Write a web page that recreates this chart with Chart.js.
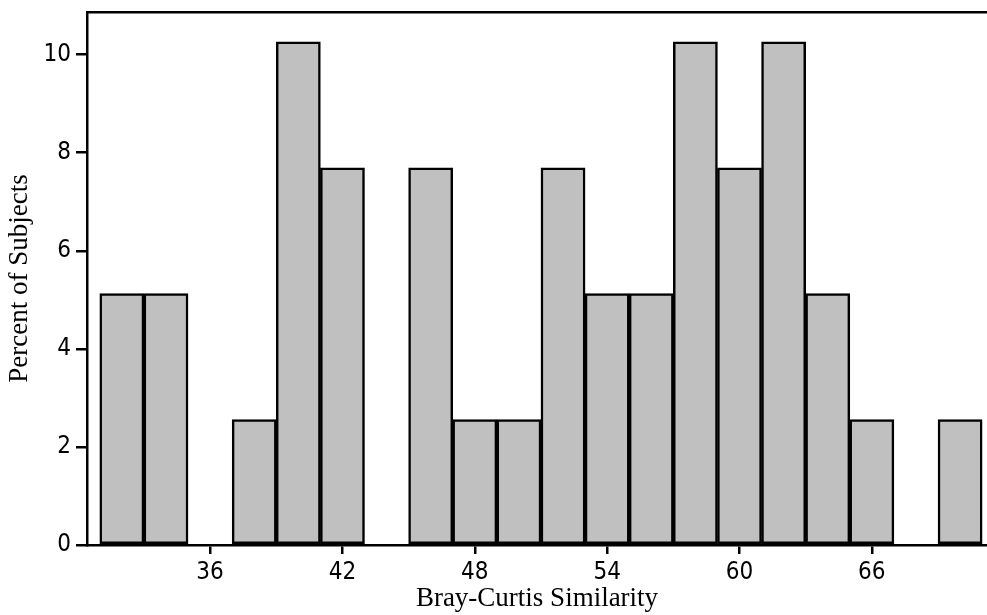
<!DOCTYPE html>
<html>
<head>
<meta charset="utf-8">
<script src="https://cdn.jsdelivr.net/npm/chart.js@4.4.1/dist/chart.umd.min.js"></script>
<style>
  html, body { margin: 0; padding: 0; background: #fff; }
  #wrap { width: 987px; height: 615px; }
</style>
</head>
<body>
<div id="wrap"><canvas id="c" width="987" height="615"></canvas></div>
<script>
// Histogram bin centers (Bray-Curtis Similarity, bin width 2)
const binCenters = [32, 34, 36, 38, 40, 42, 44, 46, 48, 50, 52, 54, 56, 58, 60, 62, 64, 66, 68, 70];
// Percent of subjects per bin
const percents = [5.13, 5.13, 0, 2.56, 10.26, 7.69, 0, 7.69, 2.56, 2.56, 7.69, 5.13, 5.13, 10.26, 7.69, 10.26, 5.13, 2.56, 0, 2.56];
const xTickValues = [36, 42, 48, 54, 60, 66];
const yTickValues = [0, 2, 4, 6, 8, 10];
const xTitle = 'Bray-Curtis Similarity';
const yTitle = 'Percent of Subjects';

const X_MIN = 30.42, X_MAX = 71.22, Y_MIN = 0, Y_MAX = 10.87;
const tickFont = { family: "'DejaVu Sans Condensed', 'Noto Sans', sans-serif", size: 24 };
const titleFont = { family: "'Liberation Serif', 'Times New Roman', serif", size: 27 };

const data = binCenters.map((x, i) => ({ x: x, y: percents[i] }));

new Chart(document.getElementById('c'), {
  type: 'bar',
  data: {
    datasets: [{
      data: data,
      backgroundColor: '#c0c0c0',
      borderColor: '#000',
      borderWidth: 2.5,
      borderSkipped: false,
      barPercentage: 1,
      categoryPercentage: 1
    }]
  },
  options: {
    responsive: false,
    animation: false,
    layout: { padding: 0 },
    plugins: { legend: { display: false }, tooltip: { enabled: false } },
    scales: {
      x: {
        type: 'linear',
        position: 'bottom',
        min: X_MIN, max: X_MAX,
        offset: false,
        afterBuildTicks: s => { s.ticks = xTickValues.map(v => ({ value: v })); },
        afterFit: s => { s.height = 70; s.paddingLeft = 0; s.paddingRight = 0; },
        grid: { display: true, offset: false, drawOnChartArea: false, drawTicks: true, tickLength: 9, color: '#000', lineWidth: 2.5 },
        border: { display: true, color: '#000', width: 2.5 },
        ticks: { color: '#000', font: tickFont, padding: 4, maxRotation: 0, autoSkip: false },
        title: { display: true, text: xTitle, color: '#000', font: titleFont, padding: { top: 0, bottom: 0 } }
      },
      x2: {
        type: 'linear',
        position: 'top',
        min: X_MIN, max: X_MAX,
        afterFit: s => { s.height = 12; s.paddingLeft = 0; s.paddingRight = 0; },
        grid: { display: true, offset: false, drawOnChartArea: false, drawTicks: false },
        border: { display: true, color: '#000', width: 2.5 },
        ticks: { display: false }
      },
      y: {
        type: 'linear',
        position: 'left',
        min: Y_MIN, max: Y_MAX,
        afterBuildTicks: s => { s.ticks = yTickValues.map(v => ({ value: v })); },
        afterFit: s => { s.width = 87; s.paddingTop = 0; s.paddingBottom = 0; },
        grid: { display: true, offset: false, drawOnChartArea: false, drawTicks: true, tickLength: 11, color: '#000', lineWidth: 2.5 },
        border: { display: true, color: '#000', width: 2.5 },
        ticks: { color: '#000', font: tickFont, padding: 5 },
        title: { display: true, text: yTitle, color: '#000', font: titleFont, padding: { top: 4, bottom: 0 } }
      }
    }
  }
});
</script>
</body>
</html>
